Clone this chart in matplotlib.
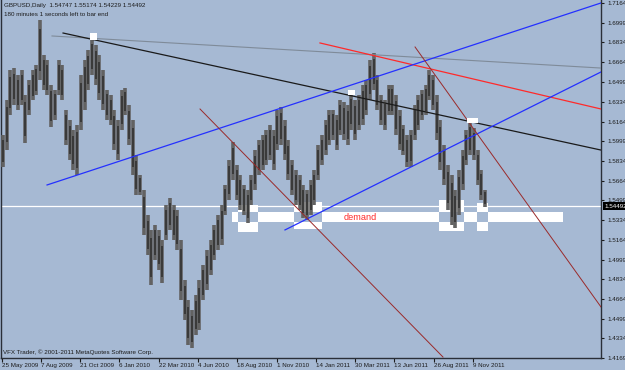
import matplotlib
matplotlib.use('Agg')
import numpy as np
import matplotlib.pyplot as plt
from matplotlib.patches import Rectangle

# weekly high / low of the GBPUSD daily bars, first week = 25 May 2009
week_high = [
    1.6051, 1.6347, 1.6600, 1.6617, 1.6558, 1.6600, 1.6389, 1.6516, 1.6600, 1.6643,
    1.7023, 1.6727, 1.6685, 1.6474, 1.6432, 1.6685, 1.6643, 1.6263, 1.6178, 1.6094,
    1.6136, 1.6558, 1.6685, 1.6770, 1.6871, 1.6812, 1.6727, 1.6600, 1.6432, 1.6389,
    1.6263, 1.6178, 1.6432, 1.6448, 1.6305, 1.6178, 1.5882, 1.5713, 1.5587, 1.5375,
    1.5248, 1.5291, 1.5248, 1.5164, 1.5460, 1.5519, 1.5460, 1.5418, 1.5164, 1.4826,
    1.4657, 1.4573, 1.4699, 1.4826, 1.4953, 1.5079, 1.5164, 1.5291, 1.5375, 1.5460,
    1.5629, 1.5840, 1.5992, 1.5798, 1.5713, 1.5629, 1.5587, 1.5713, 1.5925, 1.6009,
    1.6051, 1.6094, 1.6136, 1.6094, 1.6263, 1.6288, 1.6178, 1.6009, 1.5840, 1.5756,
    1.5713, 1.5629, 1.5587, 1.5671, 1.5756, 1.5967, 1.6051, 1.6178, 1.6263, 1.6263,
    1.6220, 1.6347, 1.6330, 1.6305, 1.6406, 1.6347, 1.6389, 1.6474, 1.6516, 1.6685,
    1.6744, 1.6558, 1.6389, 1.6347, 1.6474, 1.6474, 1.6389, 1.6263, 1.6136, 1.6051,
    1.6094, 1.6305, 1.6389, 1.6432, 1.6474, 1.6600, 1.6558, 1.6389, 1.6178, 1.5967,
    1.5798, 1.5713, 1.5587, 1.5756, 1.5925, 1.6094, 1.6161, 1.6110, 1.5925, 1.5756,
    1.5587,
]
week_low = [
    1.5781, 1.5925, 1.6220, 1.6305, 1.6263, 1.6305, 1.5984, 1.6220, 1.6347, 1.6389,
    1.6516, 1.6432, 1.6389, 1.6119, 1.6178, 1.6389, 1.6347, 1.5967, 1.5840, 1.5756,
    1.5713, 1.6094, 1.6263, 1.6432, 1.6558, 1.6474, 1.6347, 1.6263, 1.6178, 1.6136,
    1.5925, 1.5840, 1.6094, 1.6220, 1.5967, 1.5713, 1.5544, 1.5544, 1.5206, 1.5037,
    1.4784, 1.4995, 1.4911, 1.4801, 1.5164, 1.5248, 1.5164, 1.5079, 1.4657, 1.4488,
    1.4277, 1.4251, 1.4361, 1.4403, 1.4657, 1.4742, 1.4868, 1.4995, 1.5079, 1.5122,
    1.5375, 1.5502, 1.5671, 1.5502, 1.5418, 1.5375, 1.5308, 1.5460, 1.5587, 1.5713,
    1.5756, 1.5798, 1.5840, 1.5756, 1.5925, 1.5967, 1.5840, 1.5671, 1.5544, 1.5460,
    1.5418, 1.5350, 1.5333, 1.5375, 1.5460, 1.5671, 1.5798, 1.5882, 1.5967, 1.6009,
    1.5925, 1.6051, 1.6009, 1.5967, 1.6094, 1.6009, 1.6094, 1.6136, 1.6220, 1.6347,
    1.6432, 1.6263, 1.6136, 1.6094, 1.6220, 1.6220, 1.6051, 1.5925, 1.5882, 1.5781,
    1.5781, 1.6009, 1.6094, 1.6178, 1.6220, 1.6347, 1.6263, 1.6009, 1.5756, 1.5629,
    1.5418, 1.5291, 1.5265, 1.5375, 1.5587, 1.5798, 1.5882, 1.5840, 1.5629, 1.5502,
    1.5443,
]

bar_open, bar_high, bar_low, bar_close = 1.54747, 1.55174, 1.54229, 1.54492

date_labels = ['25 May 2009', '7 Aug 2009', '21 Oct 2009', '6 Jan 2010',
               '22 Mar 2010', '4 Jun 2010', '18 Aug 2010', '1 Nov 2010',
               '14 Jan 2011', '30 Mar 2011', '13 Jun 2011', '26 Aug 2011',
               '9 Nov 2011']
bars_per_label = 53

price_ticks = [1.71640, 1.69990, 1.68340, 1.66640, 1.64990, 1.63340, 1.61640,
               1.59990, 1.58340, 1.56640, 1.54990, 1.53340, 1.51640, 1.49990,
               1.48340, 1.46640, 1.44990, 1.43340, 1.41690]

# trend lines, in bars from the first bar and price
line_x0 = [68.1, 83.0, 429.5, 61.4, 382.3, 267.7, 557.7]
line_p0 = [1.6888, 1.6913, 1.6829, 1.5629, 1.5249, 1.6271, 1.6795]
line_x1 = [808.5, 808.5, 808.5, 808.5, 808.5, 595.4, 808.5]
line_p1 = [1.6617, 1.5924, 1.6271, 1.7167, 1.6584, 1.4175, 1.4598]

# demand zone rectangles (drawn xor-style, overlaps cut out)
zone_x0 = [310.9, 319.0, 394.5, 590.0, 641.0]
zone_x1 = [757.2, 346.0, 432.2, 623.7, 656.0]
zone_top = [1.5401, 1.5460, 1.5485, 1.5502, 1.5477]
zone_bot = [1.5312, 1.5232, 1.5257, 1.5240, 1.5240]
zone_label_bar = 483.5

# small price labels
mark_x0 = [119.4, 467.0, 628.0]
mark_x1 = [128.8, 477.0, 643.0]
mark_top = [1.6913, 1.6432, 1.6195]
mark_bot = [1.6854, 1.6389, 1.6153]

BG = '#a6b9d3'
FG = '#1c1c1c'
line_colors = ['#7f8b99', '#1a1a1a', '#ff2a2a', '#2430ff', '#2430ff', '#9a2a2a', '#9a2a2a']
line_widths = [0.8, 0.9, 0.9, 0.9, 0.9, 0.7, 0.7]

fs = 4.5
plt.rcParams['font.family'] = ['Liberation Sans', 'DejaVu Sans']

W, H = 625, 370
fig = plt.figure(figsize=(W / 100, H / 100), dpi=100, facecolor=BG)
ax = fig.add_axes([1 / W, (H - 358) / H, 600 / W, 358 / H], facecolor=BG)

ax.set_xlim(-0.7, 808.5)
ax.set_ylim(1.41669, 1.7192)

# zones
for i in range(len(zone_x0)):
    ax.add_patch(Rectangle((zone_x0[i], zone_bot[i]), zone_x1[i] - zone_x0[i],
                           zone_top[i] - zone_bot[i], facecolor='white',
                           edgecolor='none', zorder=1))
for i in range(len(zone_x0)):
    for j in range(i + 1, len(zone_x0)):
        a0, a1 = max(zone_x0[i], zone_x0[j]), min(zone_x1[i], zone_x1[j])
        b0, b1 = max(zone_bot[i], zone_bot[j]), min(zone_top[i], zone_top[j])
        if a1 > a0 and b1 > b0:
            ax.add_patch(Rectangle((a0, b0), a1 - a0, b1 - b0, facecolor=BG,
                                   edgecolor='none', zorder=1.5))

ax.axhline(bar_close, color='white', lw=0.9, zorder=2)

# price bars
wx = np.arange(len(week_high)) * 5 + 2
hi = np.array(week_high)
lo = np.array(week_low)
ax.vlines(wx, lo, hi, color='#626262', lw=2.6, zorder=3)
mid = (hi + lo) / 2
half = (hi - lo) * 0.35
ax.vlines(wx, mid - half, mid + half, color='#2e2e2e', lw=1.1, zorder=3.5)

for i in range(len(line_x0)):
    ax.plot([line_x0[i], line_x1[i]], [line_p0[i], line_p1[i]],
            color=line_colors[i], lw=line_widths[i], zorder=4)

for i in range(len(mark_x0)):
    ax.add_patch(Rectangle((mark_x0[i], mark_bot[i]), mark_x1[i] - mark_x0[i],
                           mark_top[i] - mark_bot[i], facecolor='white',
                           edgecolor='none', zorder=5))

ax.text(zone_label_bar, (zone_top[0] + zone_bot[0]) / 2, 'demand', color='#ff2a2a',
        fontsize=6.6, ha='center', va='center', zorder=6)

# axes
ax.spines['top'].set_visible(False)
for side in ['left', 'bottom', 'right']:
    ax.spines[side].set_color('#2a2f38')
    ax.spines[side].set_linewidth(1.0)

ax.set_xticks([i * bars_per_label for i in range(len(date_labels))], date_labels)
for lbl in ax.get_xticklabels():
    lbl.set_horizontalalignment('left')
ax.tick_params(axis='x', length=3, width=0.8, color=FG, pad=0.5,
               labelsize=fs, labelcolor=FG)

ax.yaxis.tick_right()
ax.set_yticks(price_ticks, ['%.5f' % p for p in price_ticks])
ax.tick_params(axis='y', length=2.5, width=0.8, color=FG, pad=2,
               labelsize=fs, labelcolor=FG)

ax.text(1.0 + 3 / 600, bar_close, '%.5f' % bar_close,
        transform=ax.get_yaxis_transform(),
        color='white', fontsize=fs, ha='left', va='center', zorder=7,
        clip_on=False,
        bbox=dict(boxstyle='square,pad=0.2', facecolor='black', edgecolor='none'))

fig.text(4 / W, 1 - 5 / H, 'GBPUSD,Daily  %.5f %.5f %.5f %.5f'
         % (bar_open, bar_high, bar_low, bar_close),
         fontsize=fs, color=FG, va='center', ha='left')
fig.text(4 / W, 1 - 14 / H, '180 minutes 1 seconds left to bar end',
         fontsize=fs, color=FG, va='center', ha='left')
fig.text(3 / W, 1 - 352 / H, 'VFX Trader, \u00a9 2001-2011 MetaQuotes Software Corp.',
         fontsize=fs, color=FG, va='center', ha='left')

fig.savefig('out.png', dpi=100, facecolor=BG)
